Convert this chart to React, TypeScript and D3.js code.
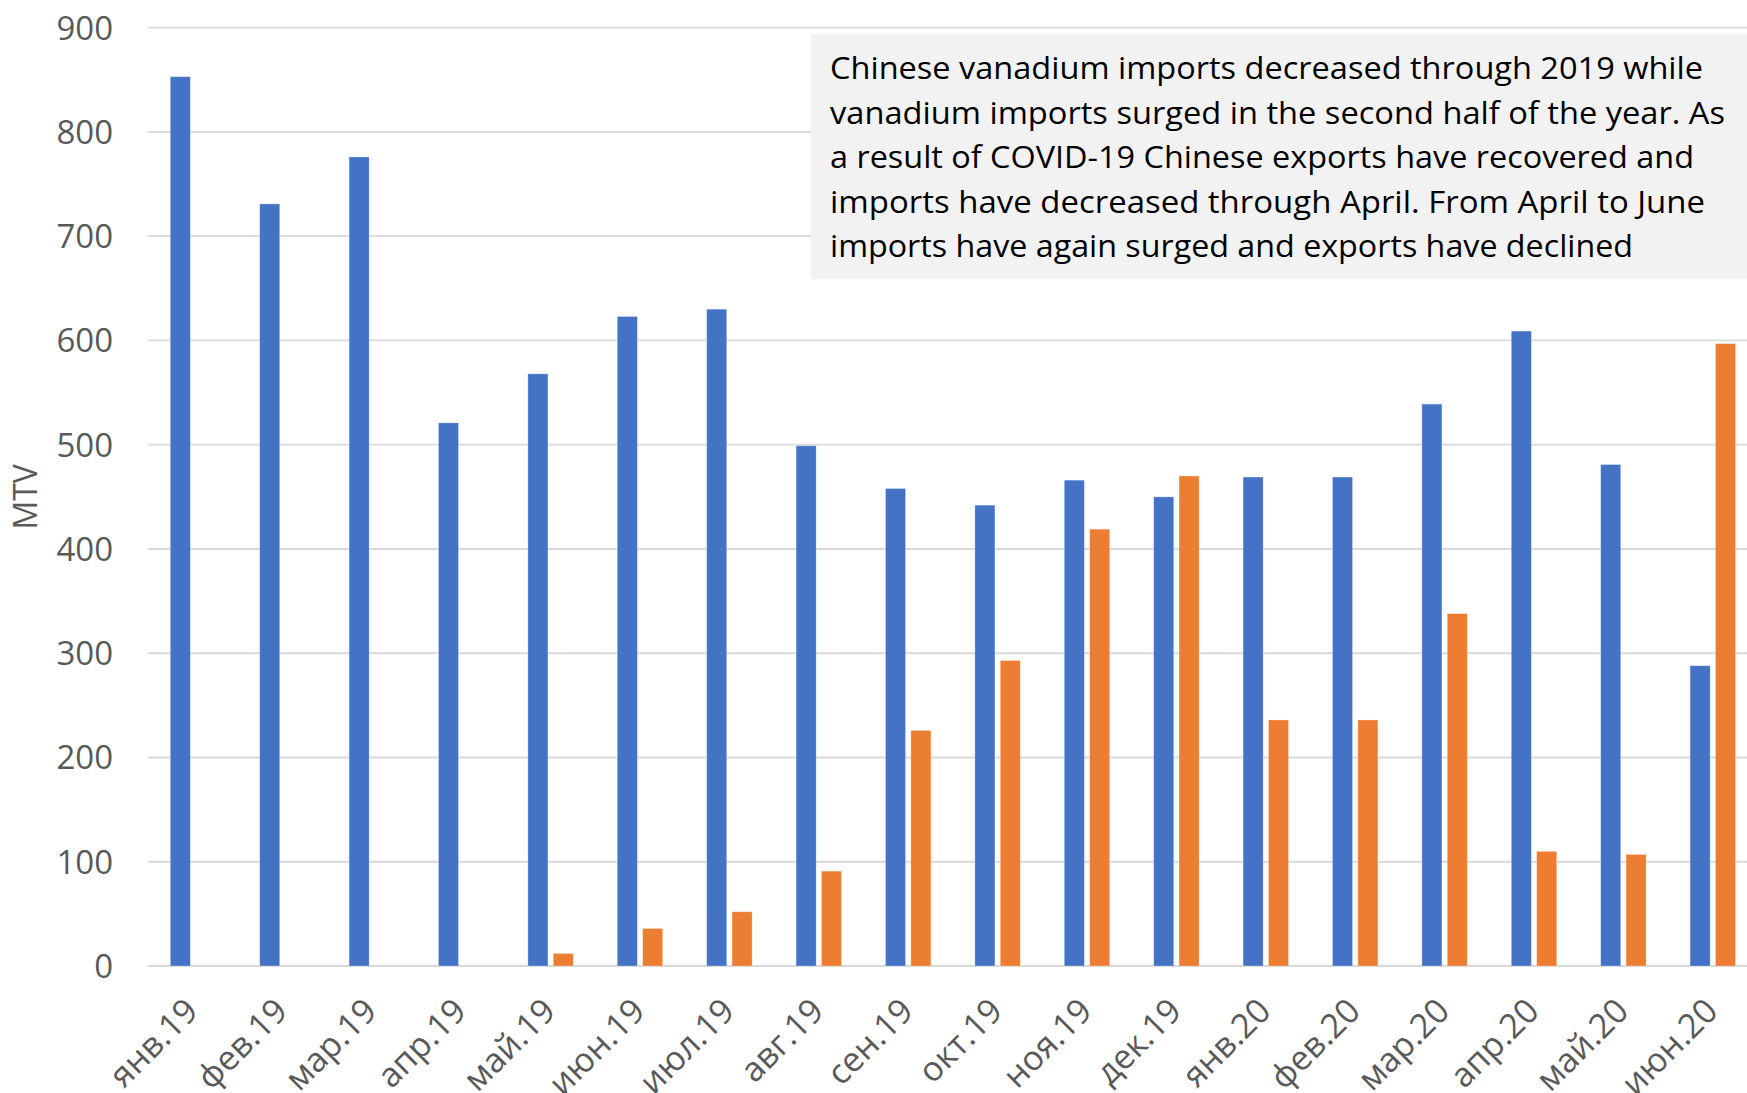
import React from "react";
import * as d3 from "d3";

// Monthly vanadium trade volumes (MTV)
const months = [
  "янв.19", "фев.19", "мар.19", "апр.19", "май.19", "июн.19",
  "июл.19", "авг.19", "сен.19", "окт.19", "ноя.19", "дек.19",
  "янв.20", "фев.20", "мар.20", "апр.20", "май.20", "июн.20",
];
const imports = [853, 731, 776, 521, 568, 623, 630, 499, 458, 442, 466, 450, 469, 469, 539, 609, 481, 288];
const exports = [0, 0, 0, 0, 12, 36, 52, 91, 226, 293, 419, 470, 236, 236, 338, 110, 107, 597];
const yTicks = [0, 100, 200, 300, 400, 500, 600, 700, 800, 900];
const seriesKeys = ["imports", "exports"];
const seriesColors = ["#4472C4", "#ED7D31"];
const noteLines = [
  "Chinese vanadium imports decreased through 2019 while",
  "vanadium imports surged in the second half of the year.  As",
  "a result of COVID-19 Chinese exports have recovered and",
  "imports have decreased through April.  From April to June",
  "imports have again surged and exports have declined",
];
const noteWidths = [873, 895, 864, 875, 803];

const W = 1747;
const H = 1093;
const FONT = "'Open Sans', 'Noto Sans', sans-serif";
const AXIS_COLOR = "#595959";
const GRID_COLOR = "#D9D9D9";

export default function App() {
  const y = d3.scaleLinear().domain([0, 900]).range([966, 27.7]);
  const x0 = d3
    .scaleBand<string>()
    .domain(months)
    .range([148.3, 1757.5])
    .paddingInner(0.492)
    .paddingOuter(0.246);
  const x1 = d3
    .scaleBand<string>()
    .domain(seriesKeys)
    .range([0, x0.bandwidth()])
    .paddingInner(0.21);

  const values = [imports, exports];
  const step = x0.step();

  return (
    <svg
      width={W}
      height={H}
      style={{ position: "absolute", left: 0, top: 0, background: "#fff", overflow: "hidden" }}
      fontFamily={FONT}
    >
      <rect x={0} y={0} width={W} height={H} fill="#fff" />

      {/* horizontal gridlines */}
      {yTicks.map((t) => (
        <line
          key={"g" + t}
          x1={148}
          x2={W}
          y1={y(t)}
          y2={y(t)}
          stroke={GRID_COLOR}
          strokeWidth={t === 0 ? 2.2 : 1.8}
        />
      ))}

      {/* y tick labels */}
      {yTicks.map((t) => (
        <text
          key={"yl" + t}
          x={113}
          y={y(t)}
          dy="0.36em"
          textAnchor="end"
          fontSize={33}
          fill={AXIS_COLOR}
        >
          {t}
        </text>
      ))}

      {/* y axis title */}
      <text
        transform={`translate(37, ${(y(0) + y(900)) / 2}) rotate(-90)`}
        textAnchor="middle"
        fontSize={32}
        fill={AXIS_COLOR}
      >
        MTV
      </text>

      {/* bars */}
      {months.map((m, i) => (
        <g key={"b" + m} transform={`translate(${x0(m)},0)`}>
          {seriesKeys.map((k, s) => {
            const v = values[s][i];
            if (v <= 0) return null;
            return (
              <rect
                key={k}
                x={x1(k)}
                y={y(v)}
                width={x1.bandwidth()}
                height={y(0) - y(v)}
                fill={seriesColors[s]}
                stroke="#ffffff"
                strokeOpacity={0.35}
                strokeWidth={0.8}
              />
            );
          })}
        </g>
      ))}

      {/* x tick labels */}
      {months.map((m) => {
        const cx = (x0(m) as number) + x0.bandwidth() / 2;
        return (
          <text
            key={"xl" + m}
            transform={`translate(${cx + 7}, 1013) rotate(-45)`}
            textAnchor="end"
            fontSize={34}
            fill={AXIS_COLOR}
          >
            {m}
          </text>
        );
      })}

      {/* annotation box */}
      <rect x={811} y={34} width={W - 811 + 10} height={245} fill="#F2F2F2" />
      {noteLines.map((line, i) => (
        <text
          key={"n" + i}
          x={830}
          y={79 + i * 44.5}
          fontSize={31}
          fill="#000"
          textLength={noteWidths[i]}
          lengthAdjust="spacingAndGlyphs"
        >
          {line}
        </text>
      ))}
      {step > 0 ? null : null}
    </svg>
  );
}
